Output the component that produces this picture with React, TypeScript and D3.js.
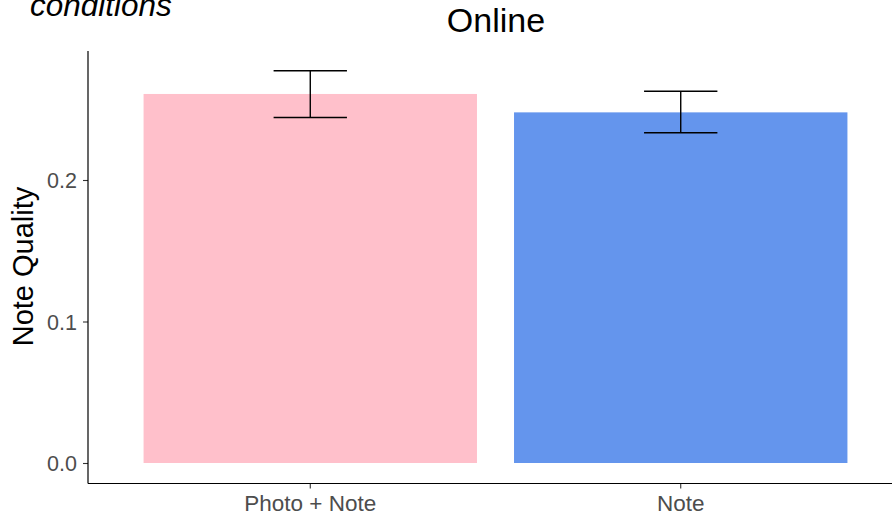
import * as d3 from "d3";
import { useRef, useEffect, ReactElement } from "react";

// chart data
const categories = ["Photo + Note", "Note"];
const means = [0.2608, 0.2478];
const errLow = [0.2442, 0.2334];
const errHigh = [0.2772, 0.2627];
const barColors = ["#FFC0CB", "#6495ED"];
const yTicks = [0.0, 0.1, 0.2];

const W = 892;
const H = 515;

const App = (): ReactElement => {
    const svgRef = useRef(null);

    useEffect(() => {
        if (!svgRef.current) return;
        const svg = d3.select(svgRef.current);
        const font = "'Liberation Sans', Arial, sans-serif";

        const left = 88;
        const right = 903;
        const bottom = 483.5;

        // discrete x, ggplot-like expansion
        const xScale = d3.scaleBand()
            .domain(categories)
            .range([left, right])
            .paddingInner(0.1)
            .paddingOuter(0.15);

        const yScale = d3.scaleLinear()
            .domain([0, 0.2])
            .range([463, 180]);

        // bars
        svg.selectAll("rect.bar")
            .data(categories)
            .enter()
            .append("rect")
            .attr("class", "bar")
            .attr("x", (d) => xScale(d)!)
            .attr("width", xScale.bandwidth())
            .attr("y", (d, i) => yScale(means[i]))
            .attr("height", (d, i) => yScale(0) - yScale(means[i]))
            .attr("fill", (d, i) => barColors[i]);

        // error bars
        const capHalf = xScale.bandwidth() * 0.11;
        const eb = svg.append("g").attr("stroke", "#000").attr("stroke-width", 1.4).attr("fill", "none");
        categories.forEach((c, i) => {
            const cx = xScale(c)! + xScale.bandwidth() / 2;
            eb.append("line").attr("x1", cx).attr("x2", cx).attr("y1", yScale(errHigh[i])).attr("y2", yScale(errLow[i]));
            eb.append("line").attr("x1", cx - capHalf).attr("x2", cx + capHalf).attr("y1", yScale(errHigh[i])).attr("y2", yScale(errHigh[i]));
            eb.append("line").attr("x1", cx - capHalf).attr("x2", cx + capHalf).attr("y1", yScale(errLow[i])).attr("y2", yScale(errLow[i]));
        });

        // y axis
        const yAxis = svg.append("g")
            .attr("transform", "translate(" + left + ",0)")
            .call(d3.axisLeft(yScale).tickValues(yTicks).tickFormat(d3.format(".1f")).tickSize(5).tickPadding(6));
        yAxis.select(".domain").remove();
        yAxis.selectAll("line").attr("stroke", "#333").attr("stroke-width", 1.1);
        yAxis.selectAll("text").attr("fill", "#4D4D4D").style("font-size", "21.5px").style("font-family", font).attr("dy", "0.36em");

        // x axis
        const xAxis = svg.append("g")
            .attr("transform", "translate(0," + bottom + ")")
            .call(d3.axisBottom(xScale).tickSize(5).tickPadding(7));
        xAxis.select(".domain").remove();
        xAxis.selectAll("line").attr("stroke", "#333").attr("stroke-width", 1.1);
        xAxis.selectAll("text").attr("fill", "#4D4D4D").style("font-size", "22.5px").style("font-family", font);

        // axis lines
        svg.append("line").attr("x1", left).attr("x2", left).attr("y1", 51).attr("y2", bottom)
            .attr("stroke", "#000").attr("stroke-width", 1.2);
        svg.append("line").attr("x1", left).attr("x2", W).attr("y1", bottom).attr("y2", bottom)
            .attr("stroke", "#000").attr("stroke-width", 1.2);

        // labels
        svg.append("text")
            .attr("transform", "translate(33,266.5) rotate(-90)")
            .attr("text-anchor", "middle")
            .style("font-size", "29px").style("font-family", font)
            .text("Note Quality");

        svg.append("text")
            .attr("x", 496).attr("y", 32)
            .attr("text-anchor", "middle")
            .style("font-size", "34px").style("font-family", font)
            .text("Online");

        svg.append("text")
            .attr("x", 30).attr("y", 16)
            .style("font-size", "31.5px").style("font-family", font).style("font-style", "italic")
            .text("conditions");

        return () => {
            svg.selectAll("*").remove();
        };
    }, []);

    return (
        <svg width={W} height={H} ref={svgRef}
            style={{ position: "fixed", top: 0, left: 0, background: "#fff" }}></svg>
    );
};

export default App;
